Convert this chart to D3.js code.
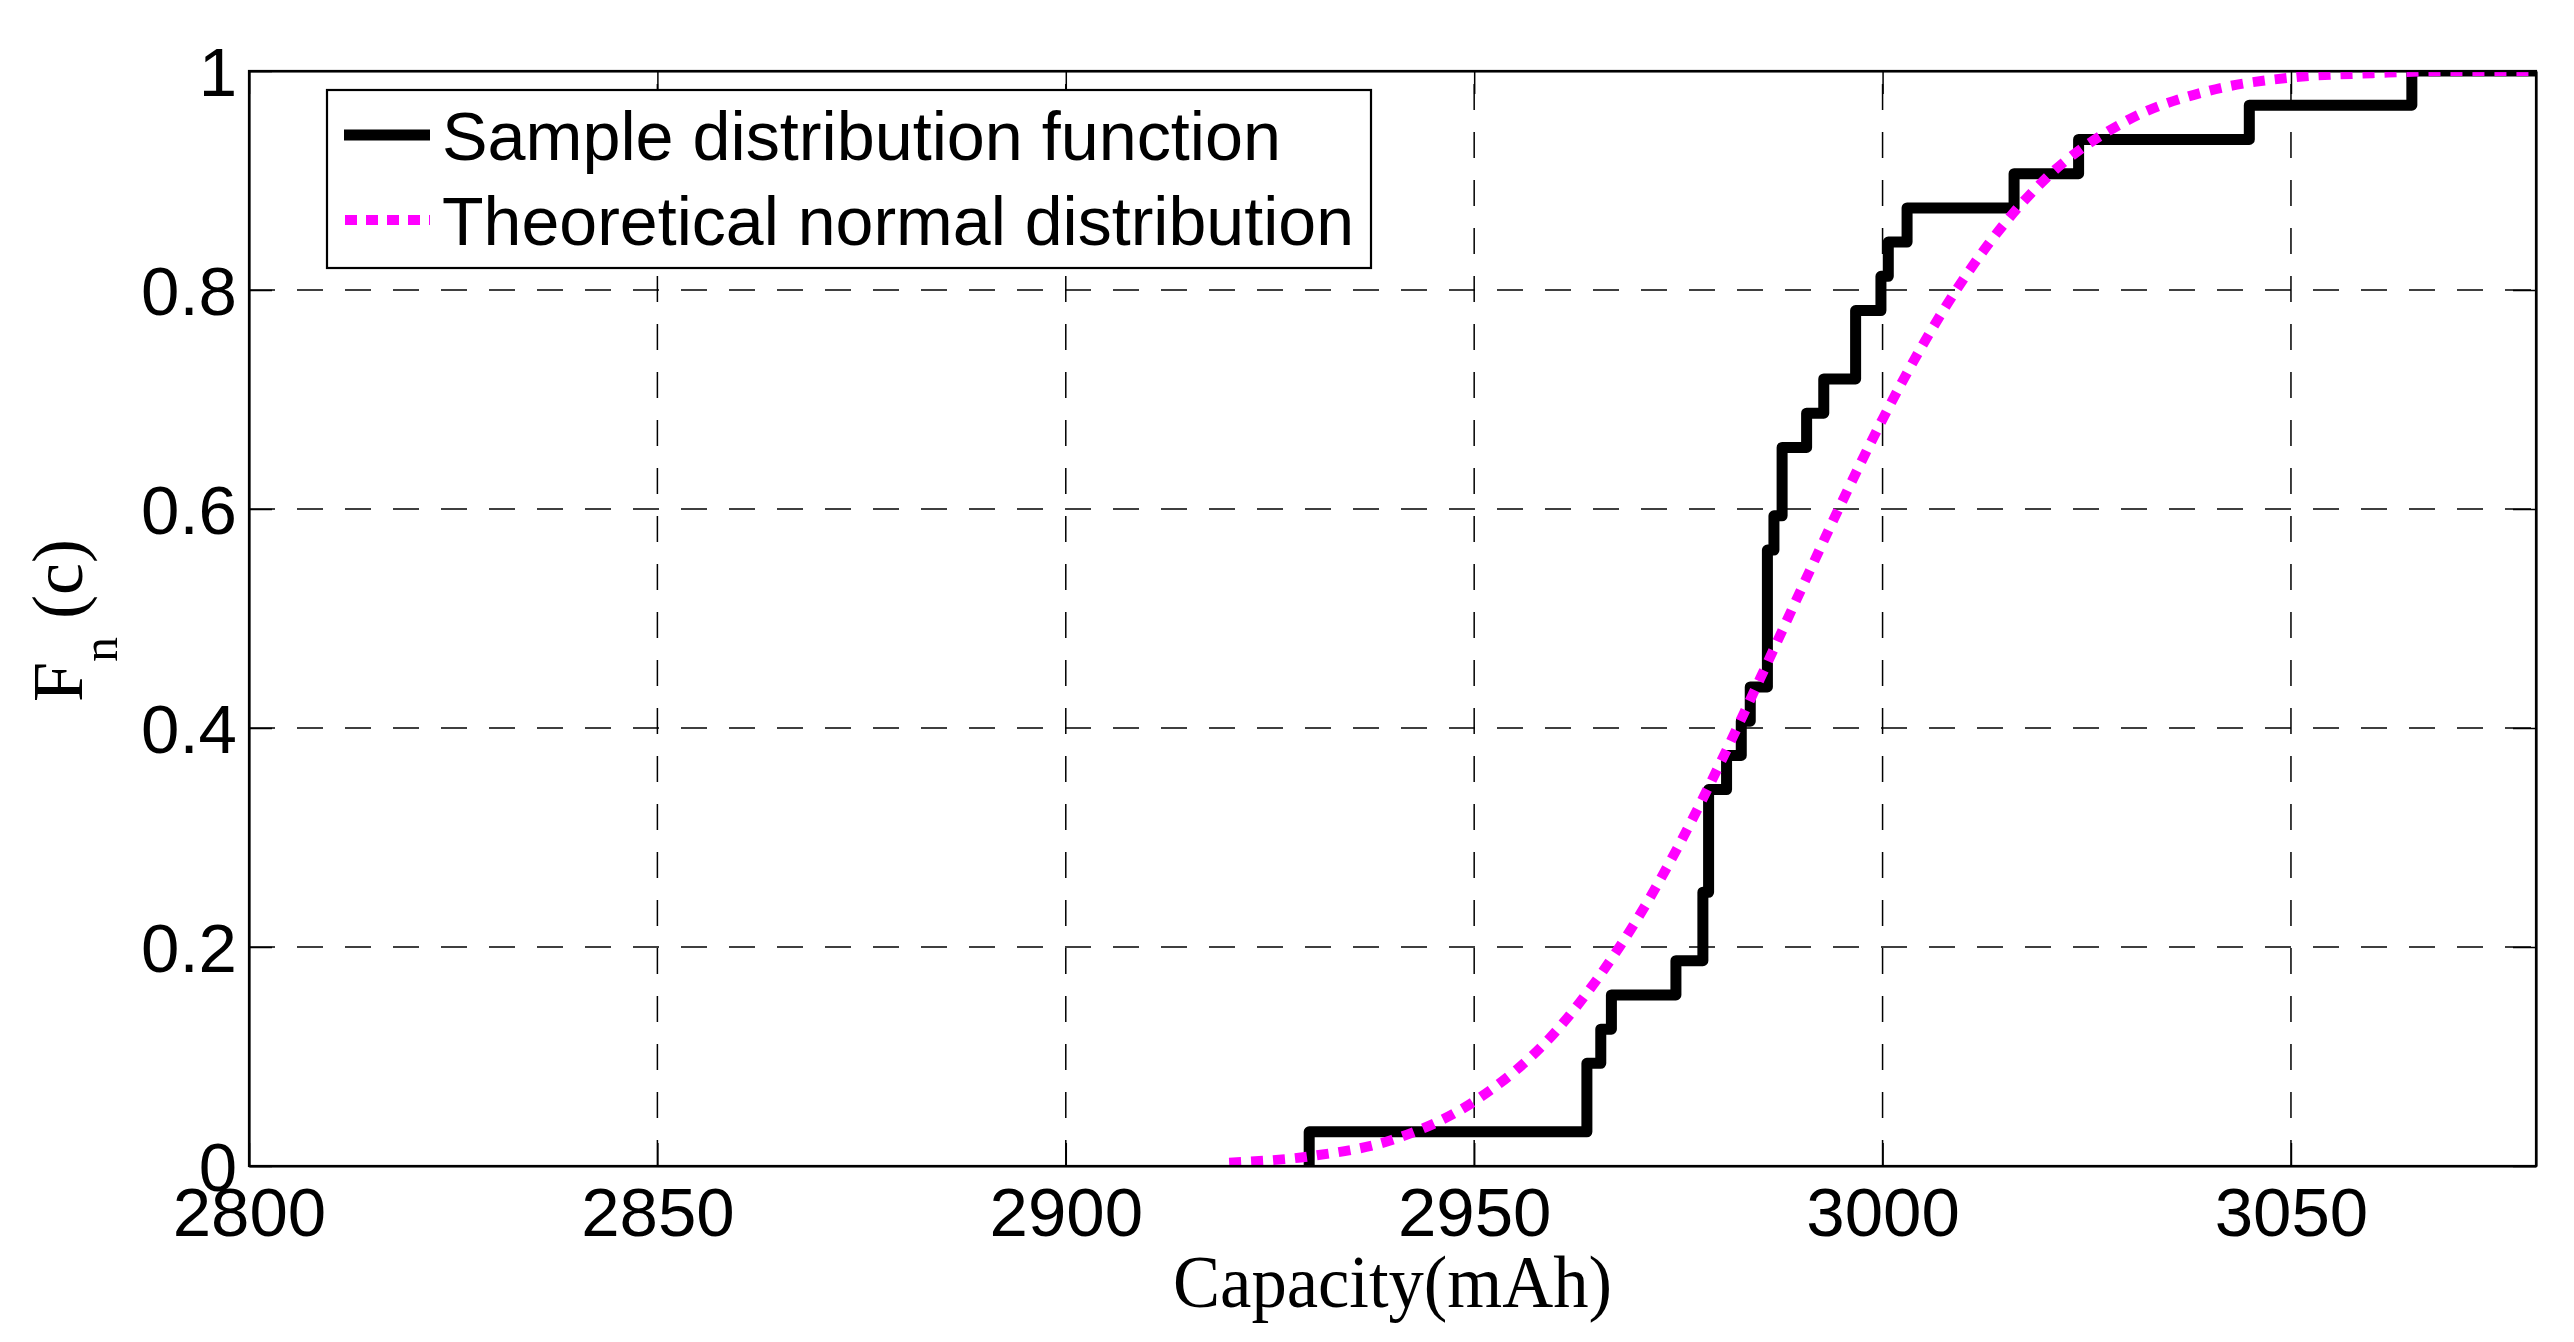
<!DOCTYPE html>
<html>
<head>
<meta charset="utf-8">
<script src="https://cdn.jsdelivr.net/npm/d3@7"></script>
<style>
  html, body { margin: 0; padding: 0; background: #ffffff; }
  svg { display: block; }
</style>
</head>
<body>
<script>
// ---- Data ----
const sampleCapacities = [
  2929.8, 2963.8, 2963.8, 2965.5, 2966.8, 2974.7, 2978.0, 2978.0,
  2978.7, 2978.7, 2978.7, 2980.9, 2982.7, 2983.8, 2985.9, 2985.9,
  2985.9, 2985.9, 2986.7, 2987.7, 2987.7, 2990.7, 2992.8, 2996.7,
  2996.7, 2999.8, 3000.7, 3003.0, 3016.1, 3024.0, 3044.9, 3064.8
];
const normalX = [2920, 2930, 2940, 2950, 2960, 2965, 2970, 2975, 2980, 2985, 2990, 2995, 3000, 3005, 3010, 3020, 3030, 3040, 3050, 3060, 3070, 3080];
const normalF = [0.003, 0.009, 0.024, 0.059, 0.123, 0.170, 0.226, 0.292, 0.366, 0.445, 0.526, 0.606, 0.682, 0.751, 0.811, 0.902, 0.955, 0.982, 0.994, 0.998, 1.000, 1.000];
const xTicks = [2800, 2850, 2900, 2950, 3000, 3050];
const yTicks = [0, 0.2, 0.4, 0.6, 0.8, 1];
const yTickLabels = ["0", "0.2", "0.4", "0.6", "0.8", "1"];
const legendLabels = ["Sample distribution function", "Theoretical normal distribution"];
const xDomain = [2800, 3080];
const yDomain = [0, 1];

// ---- Layout ----
const W = 2574, H = 1342;
const L = 249, R = 2536, T = 71, B = 1166;

const svg = d3.select("body").append("svg").attr("width", W).attr("height", H);
svg.append("rect").attr("width", W).attr("height", H).attr("fill", "#fff");

const x = d3.scaleLinear().domain(xDomain).range([L, R]);
const y = d3.scaleLinear().domain(yDomain).range([B, T]);

// clip
svg.append("clipPath").attr("id", "plotclip")
  .append("rect").attr("x", L).attr("y", T).attr("width", R - L).attr("height", B - T);

// grid lines
const grid = svg.append("g").attr("stroke", "#000").attr("stroke-width", 1.5)
  .attr("stroke-dasharray", "26,22").attr("fill", "none");
xTicks.filter(v => v > xDomain[0]).forEach(v => {
  grid.append("line").attr("x1", x(v)).attr("x2", x(v)).attr("y1", B).attr("y2", T);
});
yTicks.filter(v => v > yDomain[0] && v < yDomain[1]).forEach(v => {
  grid.append("line").attr("x1", L).attr("x2", R).attr("y1", y(v)).attr("y2", y(v));
});

// axes (box with inward ticks)
const tickLen = 23;
const axB = svg.append("g").attr("transform", `translate(0,${B})`)
  .call(d3.axisBottom(x).tickValues(xTicks).tickSizeInner(-tickLen).tickSizeOuter(0).tickPadding(30).tickFormat(d3.format("d")));
const axT = svg.append("g").attr("transform", `translate(0,${T})`)
  .call(d3.axisTop(x).tickValues(xTicks).tickSizeInner(-tickLen).tickSizeOuter(0).tickFormat(""));
const axL = svg.append("g").attr("transform", `translate(${L},0)`)
  .call(d3.axisLeft(y).tickValues(yTicks).tickSizeInner(-tickLen).tickSizeOuter(0).tickPadding(12)
    .tickFormat((d, i) => yTickLabels[i]));
const axR = svg.append("g").attr("transform", `translate(${R},0)`)
  .call(d3.axisRight(y).tickValues(yTicks).tickSizeInner(-tickLen).tickSizeOuter(0).tickFormat(""));

[axB, axT, axL, axR].forEach(a => {
  a.select(".domain").attr("stroke", "#000").attr("stroke-width", 2.2);
  a.selectAll(".tick line").attr("stroke", "#000").attr("stroke-width", 1.5);
  a.selectAll("text").attr("font-family", "'Liberation Sans', Arial, sans-serif")
    .attr("font-size", 69).attr("fill", "#000");
});
axB.selectAll(".tick text").attr("dy", null).attr("y", 0)
  .attr("transform", "translate(0,70)");
axL.selectAll(".tick text").attr("dy", "0.36em");

// ---- Empirical CDF (step) ----
const sorted = sampleCapacities.slice().sort(d3.ascending);
const n = sorted.length;
const uniq = Array.from(new Set(sorted));
const stepPts = [{ x: uniq[0], f: 0 }];
uniq.forEach(v => {
  const c = sorted.filter(s => s <= v).length;
  stepPts.push({ x: v, f: c / n });
});
stepPts.push({ x: xDomain[1], f: 1 });

const plot = svg.append("g").attr("clip-path", "url(#plotclip)");

plot.append("path")
  .datum(stepPts)
  .attr("fill", "none").attr("stroke", "#000").attr("stroke-width", 11)
  .attr("stroke-linejoin", "round")
  .attr("d", d3.line().x(d => x(d.x)).y(d => y(d.f)).curve(d3.curveStepAfter));

// ---- Theoretical normal curve ----
const normPts = normalX.map((v, i) => ({ x: v, f: normalF[i] }));
plot.append("path")
  .datum(normPts)
  .attr("fill", "none").attr("stroke", "#ff00ff").attr("stroke-width", 10)
  .attr("stroke-dasharray", "12,10")
  .attr("d", d3.line().x(d => x(d.x)).y(d => y(d.f)).curve(d3.curveMonotoneX));

// redraw box on top
svg.append("rect").attr("x", L).attr("y", T).attr("width", R - L).attr("height", B - T)
  .attr("fill", "none").attr("stroke", "#000").attr("stroke-width", 2.2);

// ---- Legend ----
const lg = svg.append("g");
lg.append("rect").attr("x", 327).attr("y", 90).attr("width", 1044).attr("height", 178)
  .attr("fill", "#fff").attr("stroke", "#000").attr("stroke-width", 2.2);
lg.append("line").attr("x1", 344).attr("x2", 430).attr("y1", 135).attr("y2", 135)
  .attr("stroke", "#000").attr("stroke-width", 11);
lg.append("line").attr("x1", 345).attr("x2", 430).attr("y1", 220).attr("y2", 220)
  .attr("stroke", "#ff00ff").attr("stroke-width", 10).attr("stroke-dasharray", "12,9");
const legendWidths = [839, 912];
lg.selectAll("text.lgt").data(legendLabels).enter().append("text")
  .attr("class", "lgt")
  .attr("x", 442).attr("y", (d, i) => 160 + i * 85)
  .attr("font-family", "'Liberation Sans', Arial, sans-serif")
  .attr("font-size", 69).attr("fill", "#000")
  .attr("textLength", (d, i) => legendWidths[i]).attr("lengthAdjust", "spacingAndGlyphs")
  .text(d => d);

// ---- Axis labels ----
svg.append("text")
  .attr("x", (L + R) / 2).attr("y", 1307)
  .attr("text-anchor", "middle")
  .attr("font-family", "'Liberation Serif', 'Times New Roman', serif")
  .attr("font-size", 74).attr("fill", "#000")
  .attr("textLength", 439).attr("lengthAdjust", "spacingAndGlyphs")
  .text("Capacity(mAh)");

const yl = svg.append("text")
  .attr("transform", "translate(82,702) rotate(-90)")
  .attr("font-family", "'Liberation Serif', 'Times New Roman', serif")
  .attr("font-size", 72).attr("fill", "#000");
yl.append("tspan").text("F");
yl.append("tspan").attr("font-size", 50).attr("dy", 35).text("n");
yl.append("tspan").attr("dy", -35).text("\u00a0(c)");
</script>
</body>
</html>
